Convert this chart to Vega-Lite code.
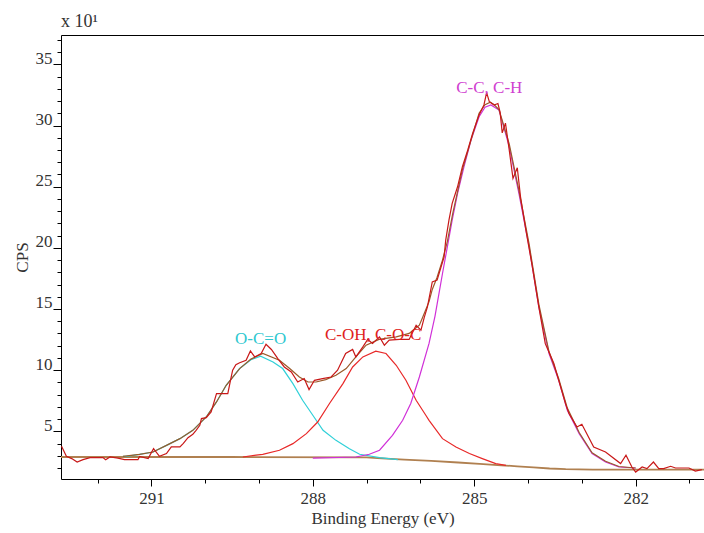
{
  "$schema": "https://vega.github.io/schema/vega-lite/v6.json",
  "width": 643,
  "height": 444,
  "autosize": {"type": "none"},
  "padding": {"left": 61, "top": 35, "right": 0, "bottom": 54},
  "background": "white",
  "config": {
    "view": {"stroke": null},
    "axis": {"grid": false, "domainColor": "#000000", "tickColor": "#000000", "labelFont": "Liberation Serif", "labelFontSize": 17, "labelColor": "#333333", "titleFont": "Liberation Serif", "titleFontSize": 17, "titleFontWeight": "normal", "titleColor": "#333333"}
  },
  "title": {"text": "x 10¹", "anchor": "start", "frame": "group", "font": "Liberation Serif", "fontSize": 18, "fontWeight": "normal", "color": "#333333", "offset": 4},
  "datasets": {
    "bg": [
      {"be": 292.68, "cps": 2.90}, {"be": 289.5, "cps": 2.90}, {"be": 287.0, "cps": 2.86}, {"be": 286.8, "cps": 2.80},
      {"be": 286.3, "cps": 2.68}, {"be": 285.8, "cps": 2.58}, {"be": 285.3, "cps": 2.45}, {"be": 284.9, "cps": 2.33},
      {"be": 284.5, "cps": 2.22}, {"be": 284.2, "cps": 2.14}, {"be": 283.9, "cps": 2.05}, {"be": 283.6, "cps": 1.96},
      {"be": 283.3, "cps": 1.90}, {"be": 282.8, "cps": 1.87}, {"be": 280.73, "cps": 1.87}
    ],
    "cyan": [
      {"be": 291.53, "cps": 2.95}, {"be": 291.46, "cps": 2.95}, {"be": 291.22, "cps": 3.12}, {"be": 290.97, "cps": 3.31},
      {"be": 290.72, "cps": 3.85}, {"be": 290.47, "cps": 4.40}, {"be": 290.23, "cps": 5.08}, {"be": 289.98, "cps": 6.17},
      {"be": 289.79, "cps": 7.40}, {"be": 289.61, "cps": 8.76}, {"be": 289.36, "cps": 10.13}, {"be": 289.15, "cps": 10.85},
      {"be": 288.97, "cps": 11.14}, {"be": 288.74, "cps": 10.67}, {"be": 288.56, "cps": 10.13}, {"be": 288.37, "cps": 8.90},
      {"be": 288.19, "cps": 7.54}, {"be": 288.0, "cps": 6.31}, {"be": 287.81, "cps": 5.08}, {"be": 287.57, "cps": 4.26},
      {"be": 287.32, "cps": 3.58}, {"be": 287.13, "cps": 3.12}, {"be": 286.76, "cps": 2.85}, {"be": 286.42, "cps": 2.68}
    ],
    "red": [
      {"be": 289.30, "cps": 2.90}, {"be": 288.93, "cps": 3.12}, {"be": 288.62, "cps": 3.45}, {"be": 288.37, "cps": 3.99},
      {"be": 288.12, "cps": 4.81}, {"be": 287.91, "cps": 5.76}, {"be": 287.69, "cps": 7.27}, {"be": 287.44, "cps": 8.90},
      {"be": 287.26, "cps": 10.26}, {"be": 287.07, "cps": 11.08}, {"be": 286.83, "cps": 11.55}, {"be": 286.64, "cps": 11.36},
      {"be": 286.45, "cps": 10.40}, {"be": 286.27, "cps": 9.17}, {"be": 286.08, "cps": 7.54}, {"be": 285.90, "cps": 6.31},
      {"be": 285.84, "cps": 5.90}, {"be": 285.59, "cps": 4.40}, {"be": 285.34, "cps": 3.72}, {"be": 285.09, "cps": 3.18},
      {"be": 284.85, "cps": 2.77}, {"be": 284.60, "cps": 2.36}, {"be": 284.41, "cps": 2.22}
    ],
    "mag": [
      {"be": 288.0, "cps": 2.80}, {"be": 287.2, "cps": 2.90}, {"be": 286.95, "cps": 3.12}, {"be": 286.76, "cps": 3.45},
      {"be": 286.52, "cps": 4.67}, {"be": 286.33, "cps": 5.90}, {"be": 286.18, "cps": 7.27}, {"be": 286.02, "cps": 9.44},
      {"be": 285.84, "cps": 12.18}, {"be": 285.73, "cps": 14.4}, {"be": 285.69, "cps": 15.4}, {"be": 285.59, "cps": 17.9},
      {"be": 285.50, "cps": 20.08}, {"be": 285.41, "cps": 22.27}, {"be": 285.31, "cps": 24.45}, {"be": 285.19, "cps": 26.63},
      {"be": 285.06, "cps": 28.81}, {"be": 284.91, "cps": 30.72}, {"be": 284.80, "cps": 31.5}, {"be": 284.69, "cps": 31.68},
      {"be": 284.54, "cps": 31.26}, {"be": 284.35, "cps": 28.27}, {"be": 284.17, "cps": 24.45}, {"be": 283.98, "cps": 20.08},
      {"be": 283.80, "cps": 15.17}, {"be": 283.61, "cps": 11.36}, {"be": 283.43, "cps": 9.17}, {"be": 283.27, "cps": 6.72},
      {"be": 283.05, "cps": 4.81}, {"be": 282.81, "cps": 3.18}, {"be": 282.56, "cps": 2.49}, {"be": 282.31, "cps": 2.08},
      {"be": 282.0, "cps": 2.0}
    ],
    "env": [
      {"be": 291.53, "cps": 2.95}, {"be": 291.22, "cps": 3.12}, {"be": 290.97, "cps": 3.31}, {"be": 290.72, "cps": 3.85},
      {"be": 290.47, "cps": 4.40}, {"be": 290.23, "cps": 5.08}, {"be": 289.98, "cps": 6.17}, {"be": 289.79, "cps": 7.40},
      {"be": 289.61, "cps": 8.76}, {"be": 289.36, "cps": 10.13}, {"be": 289.15, "cps": 10.9}, {"be": 288.93, "cps": 11.36},
      {"be": 288.62, "cps": 10.81}, {"be": 288.43, "cps": 10.13}, {"be": 288.25, "cps": 9.44}, {"be": 288.09, "cps": 9.03},
      {"be": 287.94, "cps": 9.03}, {"be": 287.76, "cps": 9.23}, {"be": 287.57, "cps": 9.58}, {"be": 287.38, "cps": 10.13},
      {"be": 287.20, "cps": 11.08}, {"be": 287.01, "cps": 12.04}, {"be": 286.77, "cps": 12.51}, {"be": 286.45, "cps": 12.72},
      {"be": 286.21, "cps": 13.0}, {"be": 286.02, "cps": 13.67}, {"be": 285.96, "cps": 14.3}, {"be": 285.84, "cps": 15.6},
      {"be": 285.78, "cps": 16.6}, {"be": 285.69, "cps": 17.6}, {"be": 285.59, "cps": 19.0}, {"be": 285.50, "cps": 20.5},
      {"be": 285.40, "cps": 22.8}, {"be": 285.31, "cps": 24.6}, {"be": 285.22, "cps": 26.4}, {"be": 285.06, "cps": 28.8},
      {"be": 284.91, "cps": 31.0}, {"be": 284.80, "cps": 31.7}, {"be": 284.70, "cps": 31.9}, {"be": 284.63, "cps": 31.7},
      {"be": 284.54, "cps": 31.3}, {"be": 284.35, "cps": 28.5}, {"be": 284.17, "cps": 24.7}, {"be": 283.98, "cps": 20.3},
      {"be": 283.80, "cps": 15.4}, {"be": 283.61, "cps": 11.5}, {"be": 283.43, "cps": 9.3}, {"be": 283.27, "cps": 6.9},
      {"be": 283.05, "cps": 4.9}, {"be": 282.81, "cps": 3.25}, {"be": 282.56, "cps": 2.55}, {"be": 282.31, "cps": 2.12},
      {"be": 282.0, "cps": 2.0}
    ],
    "raw": [
      {"be": 292.67, "cps": 3.77}, {"be": 292.58, "cps": 2.95}, {"be": 292.48, "cps": 2.77}, {"be": 292.38, "cps": 2.49},
      {"be": 292.27, "cps": 2.68}, {"be": 292.14, "cps": 2.85}, {"be": 291.90, "cps": 2.85}, {"be": 291.85, "cps": 2.68},
      {"be": 291.77, "cps": 2.90}, {"be": 291.62, "cps": 2.81}, {"be": 291.50, "cps": 2.68}, {"be": 291.25, "cps": 2.68},
      {"be": 291.22, "cps": 2.95}, {"be": 291.06, "cps": 2.77}, {"be": 290.96, "cps": 3.58}, {"be": 290.85, "cps": 2.95},
      {"be": 290.72, "cps": 3.18}, {"be": 290.63, "cps": 3.72}, {"be": 290.47, "cps": 3.72}, {"be": 290.41, "cps": 3.99},
      {"be": 290.32, "cps": 4.48}, {"be": 290.23, "cps": 4.75}, {"be": 290.17, "cps": 5.08}, {"be": 290.10, "cps": 5.49},
      {"be": 290.07, "cps": 6.04}, {"be": 289.98, "cps": 6.12}, {"be": 289.89, "cps": 6.58}, {"be": 289.79, "cps": 8.08},
      {"be": 289.58, "cps": 8.08}, {"be": 289.53, "cps": 9.17}, {"be": 289.49, "cps": 10.0}, {"be": 289.43, "cps": 10.45},
      {"be": 289.36, "cps": 10.6}, {"be": 289.24, "cps": 10.81}, {"be": 289.16, "cps": 11.57}, {"be": 289.08, "cps": 11.08},
      {"be": 288.96, "cps": 11.36}, {"be": 288.87, "cps": 12.12}, {"be": 288.77, "cps": 11.69}, {"be": 288.65, "cps": 10.95},
      {"be": 288.53, "cps": 10.26}, {"be": 288.40, "cps": 9.85}, {"be": 288.28, "cps": 9.03}, {"be": 288.16, "cps": 9.31},
      {"be": 288.07, "cps": 8.41}, {"be": 287.97, "cps": 9.17}, {"be": 287.82, "cps": 9.31}, {"be": 287.66, "cps": 9.44},
      {"be": 287.54, "cps": 9.99}, {"be": 287.39, "cps": 11.36}, {"be": 287.26, "cps": 11.69}, {"be": 287.20, "cps": 11.08},
      {"be": 287.07, "cps": 11.90}, {"be": 286.98, "cps": 12.51}, {"be": 286.89, "cps": 12.18}, {"be": 286.76, "cps": 12.72},
      {"be": 286.67, "cps": 12.04}, {"be": 286.58, "cps": 12.45}, {"be": 286.39, "cps": 12.51}, {"be": 286.21, "cps": 12.51},
      {"be": 286.08, "cps": 13.67}, {"be": 285.99, "cps": 13.27}, {"be": 285.93, "cps": 14.3}, {"be": 285.87, "cps": 15.17},
      {"be": 285.78, "cps": 17.22}, {"be": 285.69, "cps": 17.36}, {"be": 285.56, "cps": 19.26}, {"be": 285.53, "cps": 20.63},
      {"be": 285.47, "cps": 22.27}, {"be": 285.41, "cps": 23.63}, {"be": 285.31, "cps": 24.99}, {"be": 285.22, "cps": 26.63},
      {"be": 285.12, "cps": 28.0}, {"be": 285.03, "cps": 29.36}, {"be": 284.91, "cps": 30.86}, {"be": 284.82, "cps": 31.68},
      {"be": 284.77, "cps": 32.69}, {"be": 284.72, "cps": 31.95}, {"be": 284.63, "cps": 31.68}, {"be": 284.56, "cps": 31.8},
      {"be": 284.52, "cps": 31.1}, {"be": 284.48, "cps": 29.4}, {"be": 284.42, "cps": 30.2}, {"be": 284.35, "cps": 28.0},
      {"be": 284.28, "cps": 25.68}, {"be": 284.20, "cps": 26.55}, {"be": 284.14, "cps": 24.17}, {"be": 284.04, "cps": 21.45},
      {"be": 283.92, "cps": 18.44}, {"be": 283.80, "cps": 15.17}, {"be": 283.68, "cps": 12.18}, {"be": 283.52, "cps": 10.54},
      {"be": 283.43, "cps": 9.17}, {"be": 283.30, "cps": 7.2}, {"be": 283.24, "cps": 6.45}, {"be": 283.09, "cps": 5.35},
      {"be": 283.00, "cps": 5.57}, {"be": 282.78, "cps": 3.72}, {"be": 282.56, "cps": 3.31}, {"be": 282.28, "cps": 2.36},
      {"be": 282.18, "cps": 3.04}, {"be": 282.07, "cps": 2.08}, {"be": 282.00, "cps": 1.67}, {"be": 281.88, "cps": 2.08},
      {"be": 281.79, "cps": 1.95}, {"be": 281.67, "cps": 2.49}, {"be": 281.57, "cps": 1.95}, {"be": 281.48, "cps": 1.95},
      {"be": 281.35, "cps": 2.14}, {"be": 281.26, "cps": 2.0}, {"be": 281.01, "cps": 2.0}, {"be": 280.89, "cps": 1.75},
      {"be": 280.77, "cps": 1.87}
    ],
    "labels": [
      {"label": "O-C=O", "be": 288.97, "cps": 12.53},
      {"label": "C-OH, C-O-C", "be": 286.88, "cps": 12.86},
      {"label": "C-C, C-H", "be": 284.72, "cps": 33.1}
    ]
  },
  "resolve": {"axis": {"x": "independent", "y": "independent"}},
  "layer": [
    {
      "data": {"name": "bg"},
      "mark": {"type": "line", "color": "#b08050", "strokeWidth": 1.8, "clip": true},
      "encoding": {
        "x": {"field": "be", "type": "quantitative",
          "scale": {"domain": [280.73, 292.68], "reverse": true, "nice": false, "zero": false},
          "axis": {"orient": "bottom", "values": [291, 288, 285, 282], "tickSize": 7, "labelPadding": 4, "labelFont": "Liberation Serif", "labelFontSize": 17, "title": "Binding Energy (eV)", "titleFont": "Liberation Serif", "titlePadding": 4, "labelFlush": false}},
        "y": {"field": "cps", "type": "quantitative",
          "scale": {"domain": [1.1, 37.4], "nice": false, "zero": false},
          "axis": {"orient": "left", "values": [5, 10, 15, 20, 25, 30, 35], "tickSize": 8, "labelPadding": 1, "labelFont": "Liberation Serif", "labelFontSize": 17, "labelBaseline": "alphabetic", "labelOffset": -1, "title": "CPS", "titleFont": "Liberation Serif", "titlePadding": 4, "labelFlush": false}}
      }
    },
    {
      "data": {"name": "cyan"},
      "mark": {"type": "line", "color": "#30d0d8", "strokeWidth": 1.2, "clip": true},
      "encoding": {
        "x": {"field": "be", "type": "quantitative",
          "scale": {"domain": [280.73, 292.68], "reverse": true, "nice": false, "zero": false},
          "axis": {"orient": "bottom", "values": [292, 290, 289, 287, 286, 284, 283, 281], "tickSize": 4, "labels": false, "domain": false, "title": null}},
        "y": {"field": "cps", "type": "quantitative",
          "scale": {"domain": [1.1, 37.4], "nice": false, "zero": false},
          "axis": {"orient": "left", "values": [2, 3, 4, 6, 7, 8, 9, 11, 12, 13, 14, 16, 17, 18, 19, 21, 22, 23, 24, 26, 27, 28, 29, 31, 32, 33, 34, 36, 37], "tickSize": 4, "labels": false, "domain": false, "title": null}}
      }
    },
    {
      "data": {"name": "red"},
      "mark": {"type": "line", "color": "#e82828", "strokeWidth": 1.2, "clip": true},
      "encoding": {
        "x": {"field": "be", "type": "quantitative",
          "scale": {"domain": [280.73, 292.68], "reverse": true, "nice": false, "zero": false},
          "axis": {"orient": "top", "ticks": false, "labels": false, "domain": true, "title": null}},
        "y": {"field": "cps", "type": "quantitative",
          "scale": {"domain": [1.1, 37.4], "nice": false, "zero": false}, "axis": null}
      }
    },
    {
      "data": {"name": "mag"},
      "mark": {"type": "line", "color": "#d030d8", "strokeWidth": 1.2, "clip": true},
      "encoding": {
        "x": {"field": "be", "type": "quantitative", "scale": {"domain": [280.73, 292.68], "reverse": true, "nice": false, "zero": false}, "axis": null},
        "y": {"field": "cps", "type": "quantitative", "scale": {"domain": [1.1, 37.4], "nice": false, "zero": false}, "axis": null}
      }
    },
    {
      "data": {"name": "env"},
      "mark": {"type": "line", "color": "#9a5a2a", "strokeWidth": 1.2, "clip": true},
      "encoding": {
        "x": {"field": "be", "type": "quantitative", "scale": {"domain": [280.73, 292.68], "reverse": true, "nice": false, "zero": false}, "axis": null},
        "y": {"field": "cps", "type": "quantitative", "scale": {"domain": [1.1, 37.4], "nice": false, "zero": false}, "axis": null}
      }
    },
    {
      "data": {"name": "raw"},
      "mark": {"type": "line", "color": "#c81818", "strokeWidth": 1.2, "clip": true},
      "encoding": {
        "x": {"field": "be", "type": "quantitative", "scale": {"domain": [280.73, 292.68], "reverse": true, "nice": false, "zero": false}, "axis": null},
        "y": {"field": "cps", "type": "quantitative", "scale": {"domain": [1.1, 37.4], "nice": false, "zero": false}, "axis": null}
      }
    },
    {
      "data": {"name": "labels"},
      "mark": {"type": "text", "font": "Liberation Serif", "fontSize": 17, "align": "center", "baseline": "middle"},
      "encoding": {
        "x": {"field": "be", "type": "quantitative", "scale": {"domain": [280.73, 292.68], "reverse": true, "nice": false, "zero": false}, "axis": null},
        "y": {"field": "cps", "type": "quantitative", "scale": {"domain": [1.1, 37.4], "nice": false, "zero": false}, "axis": null},
        "text": {"field": "label"},
        "color": {"field": "label", "type": "nominal", "legend": null,
          "scale": {"domain": ["O-C=O", "C-OH, C-O-C", "C-C, C-H"], "range": ["#30c8d0", "#e02020", "#d040d0"]}}
      }
    }
  ]
}
